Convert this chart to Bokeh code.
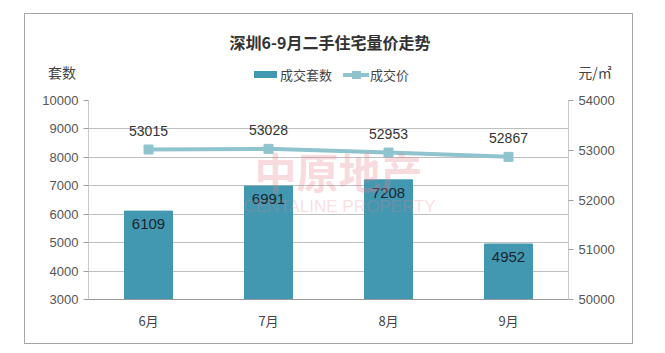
from bokeh.plotting import figure
from bokeh.models import (FactorRange, Range1d, LinearAxis, ColumnDataSource, LabelSet,
                          Label, FixedTicker, Div)
from bokeh.layouts import column
from bokeh.core.properties import value
from bokeh.embed import file_html
from bokeh.resources import INLINE

months = ["6月", "7月", "8月", "9月"]
volume = [6109, 6991, 7208, 4952]
price = [53015, 53028, 52953, 52867]
title_text = "深圳6-9月二手住宅量价走势"
left_unit = "套数"
right_unit = "元/㎡"
series_names = ["成交套数", "成交价"]
left_ticks = list(range(3000, 10001, 1000))
right_ticks = list(range(50000, 54001, 1000))

BAR = "#4298b0"
LINE = "#8fc4cf"
FONT = "Liberation Sans"
CJK = "Noto Sans CJK SC"

# layout (pixels)
OX, OY = 25, 14            # inner origin of the outer box
IW = 607                   # inner width
HDR_H = 71                 # header height (y 14..85)
P_H = 258                  # figure height (y 85..343)
FL, FR, FT, FB = 88, 568, 100, 299   # frame edges in page pixels

src = ColumnDataSource(dict(m=months, v=volume, p=price,
                            vl=[str(x) for x in volume], pl=[str(x) for x in price]))

p = figure(width=IW, height=P_H, x_range=FactorRange(*months, range_padding=0),
           y_range=Range1d(left_ticks[0], left_ticks[-1]), output_backend="svg",
           toolbar_location=None,
           min_border_left=FL - OX, min_border_right=OX + IW - FR,
           min_border_top=FT - (OY + HDR_H), min_border_bottom=(OY + HDR_H + P_H) - FB)
p.extra_y_ranges = {"price": Range1d(right_ticks[0], right_ticks[-1])}
p.outline_line_color = None
p.background_fill_color = "white"
p.border_fill_color = "white"

bars = p.vbar(x="m", top="v", bottom=left_ticks[0], width=0.4, source=src, color=BAR)
ln = p.line(x="m", y="p", source=src, y_range_name="price", line_color=LINE, line_width=4)
mk = p.scatter(x="m", y="p", source=src, y_range_name="price", marker="square",
               size=9, color=LINE)

p.add_layout(LabelSet(x="m", y="v", text="vl", source=src, y_offset=-8, text_align="center",
                      text_baseline="top", text_font_size="15px", text_color="#1c2430",
                      text_font=value(FONT)))
p.add_layout(LabelSet(x="m", y="p", text="pl", source=src, y_range_name="price", y_offset=14,
                      text_align="center", text_baseline="bottom", text_font_size="14px",
                      text_color="#333333", text_font=value(FONT)))

# axes
ya = p.yaxis[0]
ya.ticker = FixedTicker(ticks=left_ticks)
ra = LinearAxis(y_range_name="price", ticker=FixedTicker(ticks=right_ticks))
p.add_layout(ra, "right")
for a in (ya, ra):
    a.axis_line_color = "#c8c8c8"
    a.major_tick_line_color = "#a0a0a0"
    a.major_tick_out = 5
    a.major_tick_in = 0
    a.minor_tick_line_color = None
    a.major_label_text_font = FONT
    a.major_label_text_font_size = "13px"
    a.major_label_text_color = "#555555"
    a.major_label_standoff = 5
xa = p.xaxis[0]
xa.axis_line_color = "#999999"
xa.major_tick_line_color = None
xa.major_label_text_font = CJK
xa.major_label_text_font_size = "13px"
xa.major_label_text_color = "#444444"
xa.major_label_standoff = 5

p.xgrid.grid_line_color = None
p.ygrid.grid_line_color = "#bfbfbf"
p.ygrid.grid_line_width = 1

# watermark (inside the plot frame)
p.add_layout(Label(x=254 - FL, y=FB - 170, text="中原地产", x_units="screen", y_units="screen",
                   text_font=CJK, text_font_style="bold", text_font_size="42px",
                   text_color="#e8808c", text_alpha=0.3, text_baseline="middle"))
p.add_layout(Label(x=243 - FL, y=FB - 206, text="CENTALINE PROPERTY", x_units="screen",
                   y_units="screen", text_font=FONT, text_font_size="17px",
                   text_color="#e8808c", text_alpha=0.25, text_baseline="middle"))

# header: title, units, legend
def at(cx, cy, inner, extra=""):
    return (f'<div style="position:absolute;left:{cx - OX}px;top:{cy - OY}px;'
            f'transform:translate(-50%,-50%);white-space:nowrap;{extra}">{inner}</div>')

txt = f"font-family:'{CJK}';color:#444444;font-size:14px;"
legend_html = (
    f'<div style="position:absolute;left:{254 - OX}px;top:{71 - OY}px;width:23px;height:7px;background:{BAR};"></div>'
    f'<div style="position:absolute;left:{280 - OX}px;top:{75 - OY}px;transform:translateY(-50%);white-space:nowrap;{txt}font-size:13px;">{series_names[0]}</div>'
    f'<div style="position:absolute;left:{343 - OX}px;top:{73 - OY}px;width:26px;height:4px;background:{LINE};"></div>'
    f'<div style="position:absolute;left:{352 - OX}px;top:{71 - OY}px;width:9px;height:8px;background:{LINE};"></div>'
    f'<div style="position:absolute;left:{370 - OX}px;top:{75 - OY}px;transform:translateY(-50%);white-space:nowrap;{txt}font-size:13px;">{series_names[1]}</div>'
)
hdr_html = (
    f'<div style="position:relative;width:{IW}px;height:{HDR_H}px;">'
    + at(330, 42, title_text, f"font-family:'{CJK}';font-weight:bold;font-size:16px;color:#333333;")
    + at(62, 72, left_unit, txt)
    + at(595, 72, right_unit, txt)
    + legend_html
    + '</div>'
)
hdr = Div(text=hdr_html, width=IW, height=HDR_H, margin=0)

root = column(hdr, p, margin=(OY - 1, 0, 0, OX - 1), spacing=0,
              styles={"border": "1px solid #a6a6a6", "background": "white"})

open("out.html", "w").write(file_html(root, INLINE))
